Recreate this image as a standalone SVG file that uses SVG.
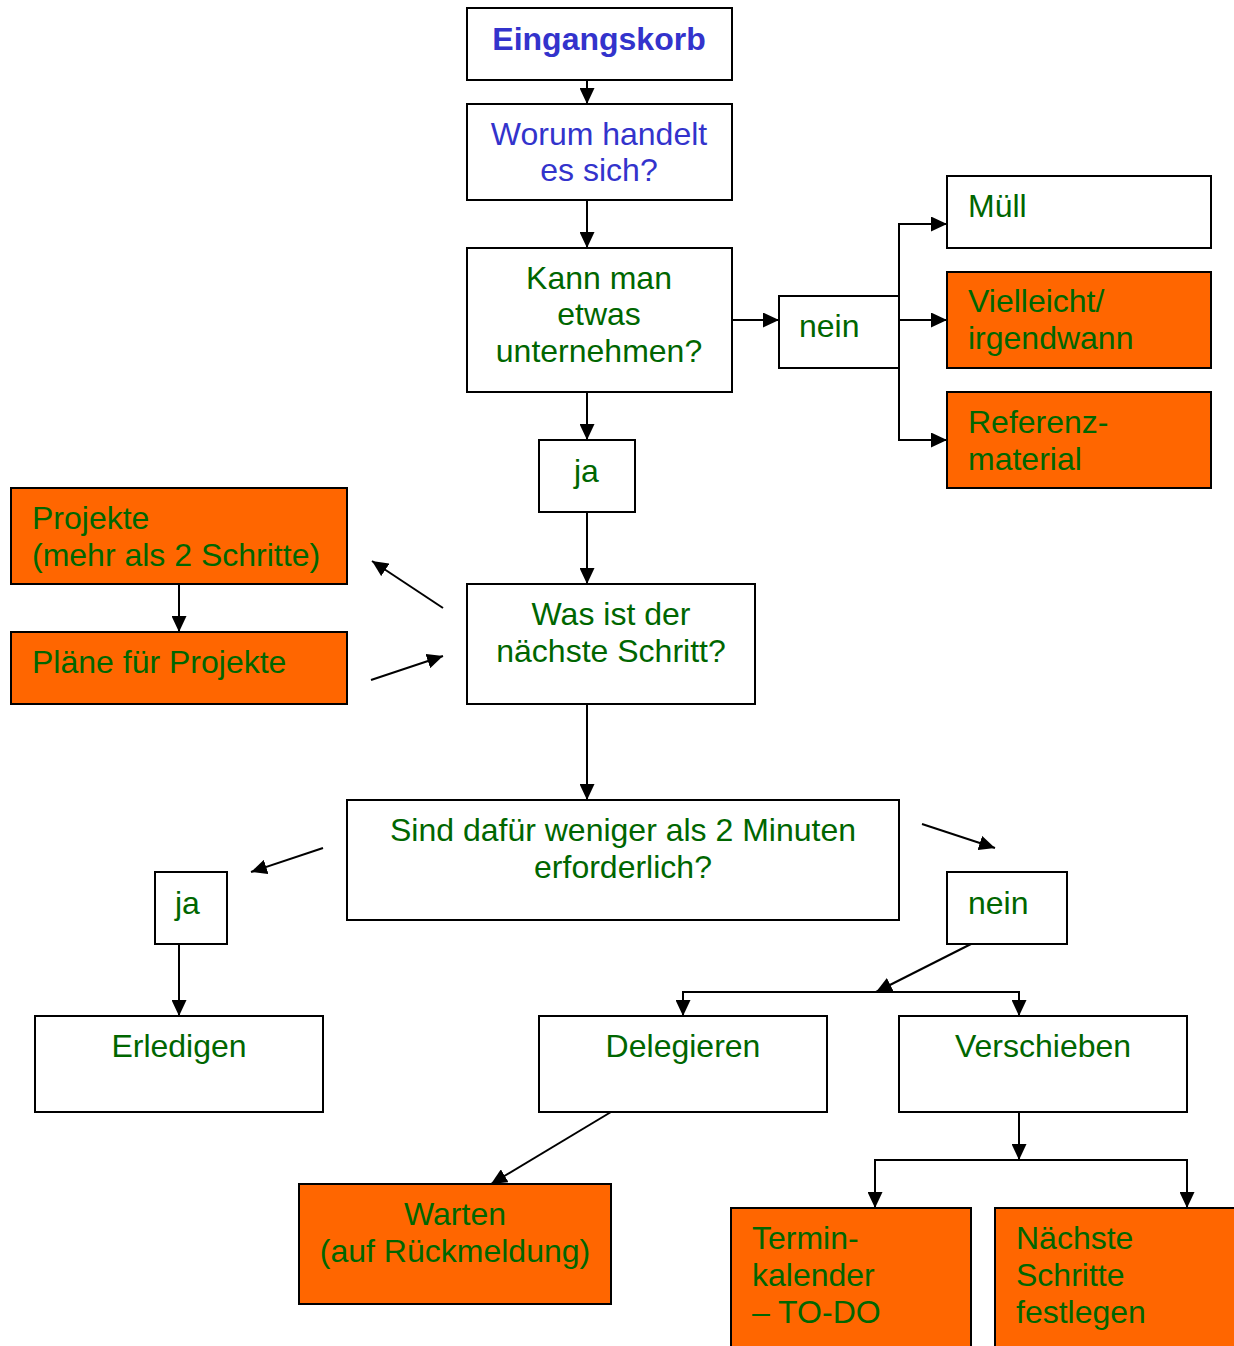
<svg xmlns="http://www.w3.org/2000/svg" width="1234" height="1346" viewBox="0 0 1234 1346">
<style>
.box{fill:#fff;stroke:#000;stroke-width:2}
.or{fill:#FF6600;stroke:#000;stroke-width:2}
.t{font-family:"Liberation Sans",Arial,sans-serif;font-size:32px;fill:#006600}
.c{text-anchor:middle}
.blue{fill:#3333CC}
.b{font-weight:bold}
.ln{stroke:#000;stroke-width:2;fill:none}
.ar{marker-end:url(#ah)}
</style>
<defs>
<marker id="ah" markerUnits="userSpaceOnUse" markerWidth="17" markerHeight="15" refX="16" refY="7.5" orient="auto">
<path d="M0,0 L16,7.5 L0,15 Z" fill="#000"/>
</marker>
</defs>
<rect width="1234" height="1346" fill="#fff"/>
<g id="connectors">
<line class="ln ar" x1="587" y1="80" x2="587" y2="104"/>
<line class="ln ar" x1="587" y1="200" x2="587" y2="248"/>
<line class="ln ar" x1="732" y1="320" x2="779" y2="320"/>
<polyline class="ln ar" points="899,320 947,320"/>
<polyline class="ln ar" points="899,320 899,224 947,224"/>
<polyline class="ln ar" points="899,320 899,440 947,440"/>
<line class="ln ar" x1="587" y1="392" x2="587" y2="440"/>
<line class="ln ar" x1="587" y1="512" x2="587" y2="584"/>
<line class="ln ar" x1="179" y1="584" x2="179" y2="632"/>
<line class="ln ar" x1="443" y1="608" x2="372" y2="561"/>
<line class="ln ar" x1="371" y1="680" x2="443" y2="656"/>
<line class="ln ar" x1="587" y1="704" x2="587" y2="800"/>
<line class="ln ar" x1="323" y1="848" x2="251" y2="872"/>
<line class="ln ar" x1="922" y1="824" x2="995" y2="848"/>
<line class="ln ar" x1="179" y1="944" x2="179" y2="1016"/>
<line class="ln ar" x1="971" y1="944" x2="876" y2="992"/>
<polyline class="ln ar" points="876,992 683,992 683,1016"/>
<polyline class="ln ar" points="876,992 1019,992 1019,1016"/>
<line class="ln ar" x1="611" y1="1112" x2="491" y2="1184"/>
<line class="ln ar" x1="1019" y1="1112" x2="1019" y2="1160"/>
<polyline class="ln ar" points="1019,1160 875,1160 875,1208"/>
<polyline class="ln ar" points="1019,1160 1187,1160 1187,1208"/>
</g>
<g id="eingangskorb"><rect class="box" x="467" y="8" width="265" height="72"/><text class="t c blue b" x="599" y="50">Eingangskorb</text></g>
<g id="worum"><rect class="box" x="467" y="104" width="265" height="96"/><text class="t c blue" x="599" y="145">Worum handelt</text><text class="t c blue" x="599" y="181">es sich?</text></g>
<g id="kannman"><rect class="box" x="467" y="248" width="265" height="144"/><text class="t c" x="599" y="289">Kann man</text><text class="t c" x="599" y="325">etwas</text><text class="t c" x="599" y="362">unternehmen?</text></g>
<g id="nein1"><rect class="box" x="779" y="296" width="120" height="72"/><text class="t" x="799" y="337">nein</text></g>
<g id="muell"><rect class="box" x="947" y="176" width="264" height="72"/><text class="t" x="968" y="217">Müll</text></g>
<g id="vielleicht"><rect class="or" x="947" y="272" width="264" height="96"/><text class="t" x="968" y="312">Vielleicht/</text><text class="t" x="968" y="349">irgendwann</text></g>
<g id="referenz"><rect class="or" x="947" y="392" width="264" height="96"/><text class="t" x="968" y="433">Referenz-</text><text class="t" x="968" y="470">material</text></g>
<g id="ja1"><rect class="box" x="539" y="440" width="96" height="72"/><text class="t" x="574" y="482">ja</text></g>
<g id="projekte"><rect class="or" x="11" y="488" width="336" height="96"/><text class="t" x="32" y="529">Projekte</text><text class="t" x="32" y="566">(mehr als 2 Schritte)</text></g>
<g id="plaene"><rect class="or" x="11" y="632" width="336" height="72"/><text class="t" x="32" y="673">Pläne für Projekte</text></g>
<g id="naechsterschritt"><rect class="box" x="467" y="584" width="288" height="120"/><text class="t c" x="611" y="625">Was ist der</text><text class="t c" x="611" y="662">nächste Schritt?</text></g>
<g id="zweiminuten"><rect class="box" x="347" y="800" width="552" height="120"/><text class="t c" x="623" y="841">Sind dafür weniger als 2 Minuten</text><text class="t c" x="623" y="878">erforderlich?</text></g>
<g id="ja2"><rect class="box" x="155" y="872" width="72" height="72"/><text class="t" x="175" y="914">ja</text></g>
<g id="nein2"><rect class="box" x="947" y="872" width="120" height="72"/><text class="t" x="968" y="914">nein</text></g>
<g id="erledigen"><rect class="box" x="35" y="1016" width="288" height="96"/><text class="t c" x="179" y="1057">Erledigen</text></g>
<g id="delegieren"><rect class="box" x="539" y="1016" width="288" height="96"/><text class="t c" x="683" y="1057">Delegieren</text></g>
<g id="verschieben"><rect class="box" x="899" y="1016" width="288" height="96"/><text class="t c" x="1043" y="1057">Verschieben</text></g>
<g id="warten"><rect class="or" x="299" y="1184" width="312" height="120"/><text class="t c" x="455" y="1225">Warten</text><text class="t c" x="455" y="1262">(auf Rückmeldung)</text></g>
<g id="terminkalender"><rect class="or" x="731" y="1208" width="240" height="150"/><text class="t" x="752" y="1249">Termin-</text><text class="t" x="752" y="1286">kalender</text><text class="t" x="752" y="1323">– TO-DO</text></g>
<g id="naechsteschritte"><rect class="or" x="995" y="1208" width="250" height="150"/><text class="t" x="1016" y="1249">Nächste</text><text class="t" x="1016" y="1286">Schritte</text><text class="t" x="1016" y="1323">festlegen</text></g>
</svg>
